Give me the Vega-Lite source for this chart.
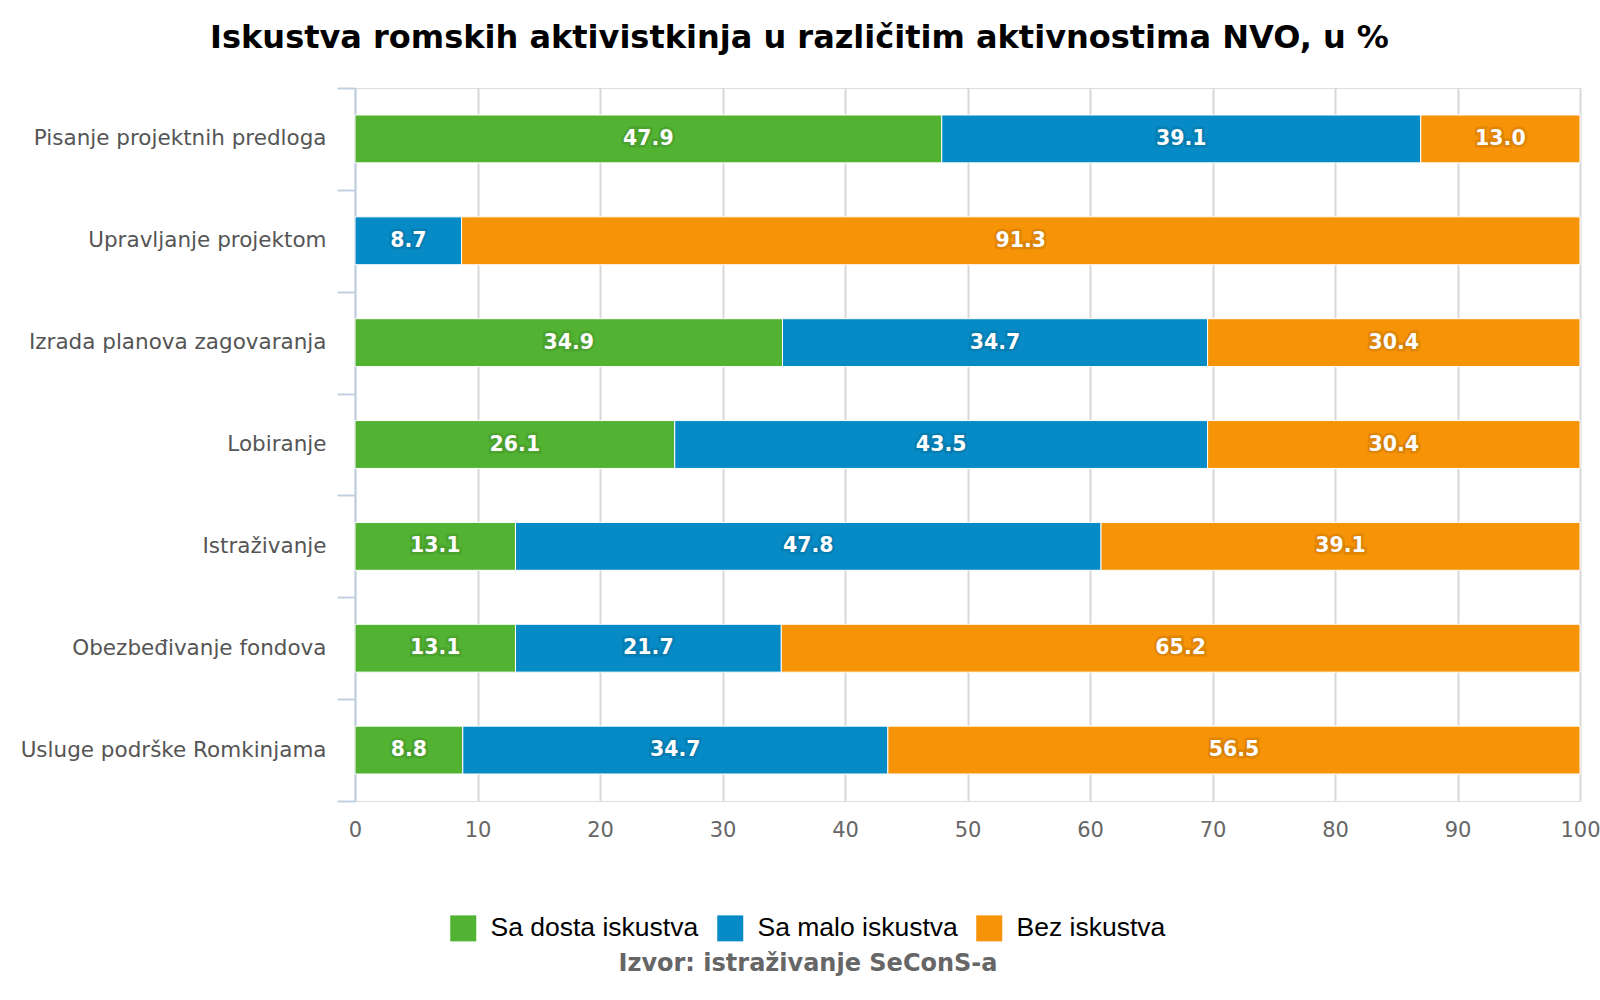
{
  "$schema": "https://vega.github.io/schema/vega-lite/v6.json",
  "autosize": {"type": "none"},
  "padding": {"left": 355, "top": 88, "right": 20, "bottom": 199},
  "width": 1225,
  "height": 713,
  "background": "white",
  "title": {
    "text": "Iskustva romskih aktivistkinja u različitim aktivnostima NVO, u %",
    "font": "DejaVu Sans",
    "fontWeight": "bold",
    "fontSize": 32,
    "color": "#000000",
    "anchor": "middle",
    "dx": -168,
    "offset": 22
  },
  "data": {
    "values": [
      {"aktivnost": "Pisanje projektnih predloga", "iskustvo": "Sa dosta iskustva", "rank": 1, "procenat": 47.9},
      {"aktivnost": "Pisanje projektnih predloga", "iskustvo": "Sa malo iskustva", "rank": 2, "procenat": 39.1},
      {"aktivnost": "Pisanje projektnih predloga", "iskustvo": "Bez iskustva", "rank": 3, "procenat": 13.0},
      {"aktivnost": "Upravljanje projektom", "iskustvo": "Sa malo iskustva", "rank": 2, "procenat": 8.7},
      {"aktivnost": "Upravljanje projektom", "iskustvo": "Bez iskustva", "rank": 3, "procenat": 91.3},
      {"aktivnost": "Izrada planova zagovaranja", "iskustvo": "Sa dosta iskustva", "rank": 1, "procenat": 34.9},
      {"aktivnost": "Izrada planova zagovaranja", "iskustvo": "Sa malo iskustva", "rank": 2, "procenat": 34.7},
      {"aktivnost": "Izrada planova zagovaranja", "iskustvo": "Bez iskustva", "rank": 3, "procenat": 30.4},
      {"aktivnost": "Lobiranje", "iskustvo": "Sa dosta iskustva", "rank": 1, "procenat": 26.1},
      {"aktivnost": "Lobiranje", "iskustvo": "Sa malo iskustva", "rank": 2, "procenat": 43.5},
      {"aktivnost": "Lobiranje", "iskustvo": "Bez iskustva", "rank": 3, "procenat": 30.4},
      {"aktivnost": "Istraživanje", "iskustvo": "Sa dosta iskustva", "rank": 1, "procenat": 13.1},
      {"aktivnost": "Istraživanje", "iskustvo": "Sa malo iskustva", "rank": 2, "procenat": 47.8},
      {"aktivnost": "Istraživanje", "iskustvo": "Bez iskustva", "rank": 3, "procenat": 39.1},
      {"aktivnost": "Obezbeđivanje fondova", "iskustvo": "Sa dosta iskustva", "rank": 1, "procenat": 13.1},
      {"aktivnost": "Obezbeđivanje fondova", "iskustvo": "Sa malo iskustva", "rank": 2, "procenat": 21.7},
      {"aktivnost": "Obezbeđivanje fondova", "iskustvo": "Bez iskustva", "rank": 3, "procenat": 65.2},
      {"aktivnost": "Usluge podrške Romkinjama", "iskustvo": "Sa dosta iskustva", "rank": 1, "procenat": 8.8},
      {"aktivnost": "Usluge podrške Romkinjama", "iskustvo": "Sa malo iskustva", "rank": 2, "procenat": 34.7},
      {"aktivnost": "Usluge podrške Romkinjama", "iskustvo": "Bez iskustva", "rank": 3, "procenat": 56.5}
    ]
  },
  "encoding": {
    "y": {
      "field": "aktivnost",
      "type": "nominal",
      "sort": null,
      "scale": {"paddingInner": 0, "paddingOuter": 0},
      "axis": {
        "title": null,
        "tickBand": "extent",
        "domainColor": "#c0d0e0",
        "domainWidth": 2,
        "tickColor": "#c0d0e0",
        "tickWidth": 2,
        "tickSize": 18,
        "labelPadding": 11,
        "labelFont": "DejaVu Sans",
        "labelFontSize": 21.5,
        "labelColor": "#555555",
        "labelLimit": 0,
        "grid": false
      }
    },
    "x": {
      "field": "procenat",
      "type": "quantitative",
      "stack": "zero",
      "scale": {"domain": [0, 100], "nice": false},
      "axis": {
        "title": null,
        "values": [0, 10, 20, 30, 40, 50, 60, 70, 80, 90, 100],
        "domain": false,
        "ticks": false,
        "grid": true,
        "gridColor": "#d8d8d8",
        "gridWidth": 2,
        "labelPadding": 18,
        "labelFont": "DejaVu Sans",
        "labelFontSize": 21,
        "labelColor": "#666666",
        "labelFlush": false
      }
    },
    "order": {"field": "rank", "type": "quantitative"}
  },
  "layer": [
    {
      "mark": {"type": "bar", "stroke": "white", "strokeWidth": 1, "height": {"band": 0.47}},
      "encoding": {
        "color": {
          "field": "iskustvo",
          "type": "nominal",
          "scale": {
            "domain": ["Sa dosta iskustva", "Sa malo iskustva", "Bez iskustva"],
            "range": ["#52b332", "#068bc6", "#f79306"]
          },
          "legend": {
            "orient": "none",
            "direction": "horizontal",
            "legendX": 95,
            "legendY": 827,
            "symbolType": "square",
            "symbolSize": 676,
            "symbolStrokeWidth": 0,
            "symbolOpacity": 1,
            "labelFont": "Liberation Sans",
            "labelFontSize": 26.5,
            "labelColor": "#000000",
            "labelOffset": 14,
            "labelLimit": 0,
            "columnPadding": 18,
            "title": "Izvor: istraživanje SeConS-a",
            "titleOrient": "bottom",
            "titleAnchor": "middle",
            "titleFont": "DejaVu Sans",
            "titleFontWeight": "bold",
            "titleFontSize": 24,
            "titleColor": "#666666",
            "titlePadding": 10,
            "titleLimit": 0
          }
        }
      }
    },
    {
      "mark": {
        "type": "text",
        "font": "DejaVu Sans",
        "fontWeight": "bold",
        "fontSize": 20.5,
        "color": "#000000",
        "opacity": 0.35,
        "stroke": "#000000",
        "strokeWidth": 5,
        "strokeOpacity": 0.25
      },
      "encoding": {
        "x": {"field": "procenat", "type": "quantitative", "stack": "zero", "bandPosition": 0.5},
        "text": {"field": "procenat", "type": "quantitative", "format": ".1f"}
      }
    },
    {
      "mark": {
        "type": "text",
        "font": "DejaVu Sans",
        "fontWeight": "bold",
        "fontSize": 20.5,
        "color": "#ffffff"
      },
      "encoding": {
        "x": {"field": "procenat", "type": "quantitative", "stack": "zero", "bandPosition": 0.5},
        "text": {"field": "procenat", "type": "quantitative", "format": ".1f"}
      }
    }
  ]
}
